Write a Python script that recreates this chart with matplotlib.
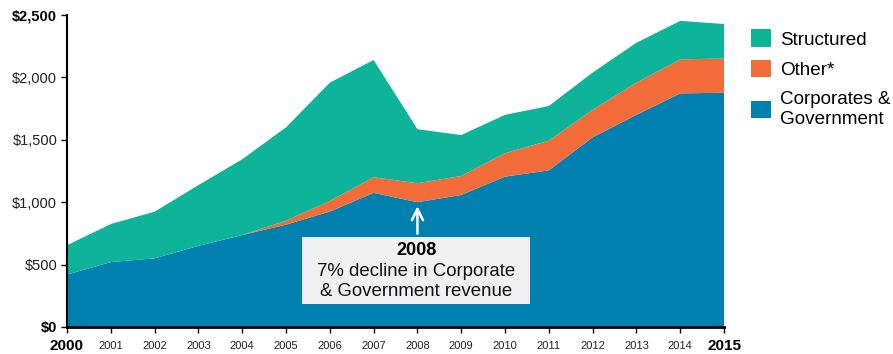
import matplotlib.pyplot as plt
import numpy as np

plt.rcParams['font.family'] = ['Liberation Sans', 'DejaVu Sans']

years = list(range(2000, 2016))
corporate_gov = [420, 520, 550, 650, 737, 820, 925, 1075, 1000, 1058, 1205, 1255, 1520, 1700, 1872, 1877]
other = [0, 0, 0, 0, 0, 32, 85, 125, 152, 152, 188, 238, 220, 258, 272, 275]
structured = [235, 305, 374, 487, 607, 748, 948, 940, 433, 328, 307, 278, 299, 320, 309, 276]

y_ticks = [0, 500, 1000, 1500, 2000, 2500]
y_labels = ['$0', '$500', '$1,000', '$1,500', '$2,000', '$2,500']

colori = ['#0080AE', '#F26C3A', '#0DB49A']
nomi = ['Corporates &\nGovernment', 'Other*', 'Structured']

fig = plt.figure(figsize=(8.93, 3.54), dpi=100)
ax = fig.add_axes([0.075, 0.0763, 0.7358, 0.8813])

polys = ax.stackplot(years, corporate_gov, other, structured, colors=colori, linewidth=0)

ax.set_xlim(2000, 2015)
ax.set_ylim(0, 2500)

ax.spines['top'].set_visible(False)
ax.spines['right'].set_visible(False)
ax.spines['left'].set_linewidth(1.5)
ax.spines['bottom'].set_linewidth(2)

ax.set_xticks(years)
ax.set_xticklabels([str(y) for y in years], fontsize=8, color='#222222', va='center')
for lab, y in zip(ax.get_xticklabels(), years):
    if y in (2000, 2015):
        lab.set_fontsize(11)
        lab.set_fontweight('bold')
        lab.set_color('black')
ax.tick_params(axis='x', length=4, width=1, pad=10)

ax.set_yticks(y_ticks)
ax.set_yticklabels(y_labels, fontsize=10.5, color='#222222')
for lab, v in zip(ax.get_yticklabels(), y_ticks):
    if v in (0, 2500):
        lab.set_fontweight('bold')
        lab.set_color('black')
ax.tick_params(axis='y', length=4, width=1, pad=3)

# annotazione 2008
ax.annotate('', xy=(2008, 990), xytext=(2008, 725),
            arrowprops=dict(arrowstyle='->', color='white', lw=1.8, mutation_scale=20))
box = plt.Rectangle((2005.37, 184), 5.2, 537, facecolor='#F0F0F0', edgecolor='none', zorder=4)
ax.add_patch(box)
ax.text(2007.97, 610, '2008', ha='center', va='center', fontsize=13,
        fontweight='bold', color='black', zorder=5)
ax.text(2007.97, 448, '7% decline in Corporate', ha='center', va='center',
        fontsize=13.4, color='#111111', zorder=5)
ax.text(2007.97, 288, '& Government revenue', ha='center', va='center',
        fontsize=13.4, color='#111111', zorder=5)

# legenda
handles = [polys[2], polys[1], polys[0]]
etichette = [nomi[2], nomi[1], nomi[0]]
leg = ax.legend(handles, etichette, loc='upper left', bbox_to_anchor=(1.03, 0.978),
                frameon=False, fontsize=13.6, handlelength=1.05, handleheight=1.05,
                handletextpad=0.45, labelspacing=0.6, borderaxespad=0)
leg.get_texts()[2].set_linespacing(1.3)

fig.savefig('out.png', dpi=100)
